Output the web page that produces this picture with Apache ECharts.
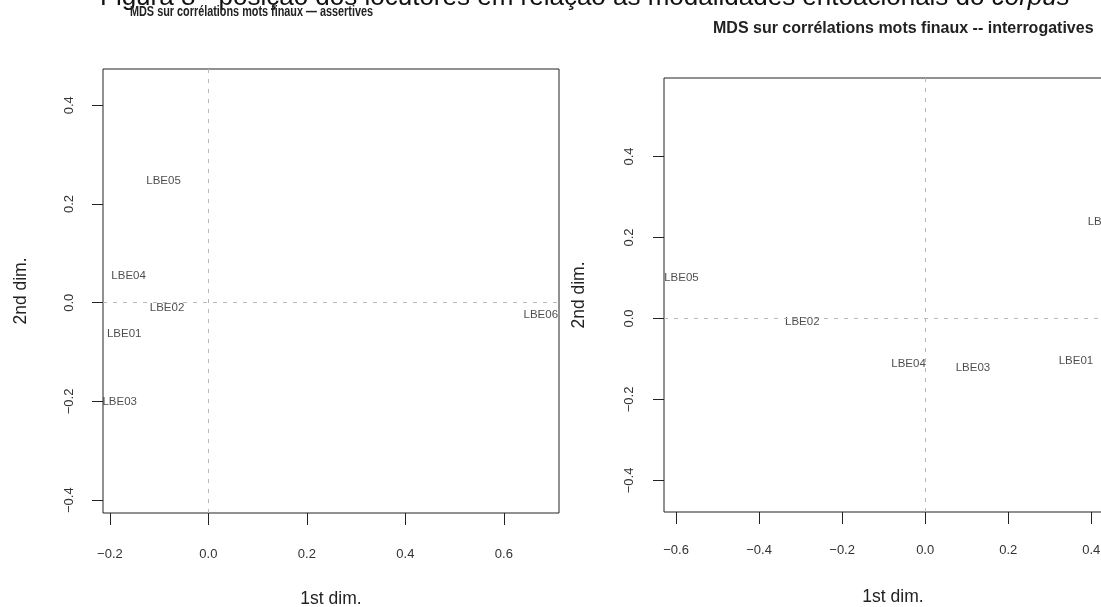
<!DOCTYPE html>
<html>
<head>
<meta charset="utf-8">
<script src="https://cdn.jsdelivr.net/npm/echarts@6/dist/echarts.min.js"></script>
<style>
html,body{margin:0;padding:0;overflow:hidden;background:#fff;}
#chart{width:1130px;height:607px;}
</style>
</head>
<body>
<div id="chart"></div>
<script>
// ---- data ----
const speakersAssert = ['LBE01','LBE02','LBE03','LBE04','LBE05','LBE06'];
const assertDim1 = [-0.171, -0.084, -0.180, -0.162, -0.091, 0.675];
const assertDim2 = [-0.063, -0.011, -0.201, 0.054, 0.247, -0.025];

const speakersInterrog = ['LBE01','LBE02','LBE03','LBE04','LBE05','LBE06'];
const interrogDim1 = [0.363, -0.296, 0.115, -0.040, -0.587, 0.433];
const interrogDim2 = [-0.104, -0.008, -0.122, -0.113, 0.100, 0.238];

const assertXTicks = [-0.2, 0.0, 0.2, 0.4, 0.6];
const assertYTicks = [-0.4, -0.2, 0.0, 0.2, 0.4];
const interrogXTicks = [-0.6, -0.4, -0.2, 0.0, 0.2, 0.4];
const interrogYTicks = [-0.4, -0.2, 0.0, 0.2, 0.4];

const headerText = 'Figura 8 - posição dos locutores em relação às modalidades entoacionais do ';
const headerItalic = 'corpus';
const titleAssert = 'MDS sur corrélations mots finaux — assertives';
const titleInterrog = 'MDS sur corrélations mots finaux -- interrogatives';
const xName = '1st dim.';
const yName = '2nd dim.';

// ---- chart ----
const FONT = "'Liberation Sans', Arial, sans-serif";
const fmt = v => (v < 0 ? '\u2212' : '') + Math.abs(v).toFixed(1);

function xAxisCfg(gi, min, max, ticks, margin, nameGap) {
  return {
    type: 'value', gridIndex: gi, min: min, max: max,
    name: xName, nameLocation: 'middle', nameGap: nameGap,
    nameTextStyle: {fontFamily: FONT, fontSize: 17.5, color: '#222'},
    axisLine: {show: false, onZero: false},
    axisTick: {show: true, length: 12, customValues: ticks, lineStyle: {color: '#222', width: 1}},
    axisLabel: {show: true, customValues: ticks, formatter: fmt, margin: margin,
      fontFamily: FONT, fontSize: 13, color: '#333'},
    splitLine: {show: false}
  };
}
function yAxisCfg(gi, min, max, ticks, margin, nameGap) {
  return {
    type: 'value', gridIndex: gi, min: min, max: max,
    name: yName, nameLocation: 'middle', nameGap: nameGap,
    nameTextStyle: {fontFamily: FONT, fontSize: 17.5, color: '#222'},
    axisLine: {show: false, onZero: false},
    axisTick: {show: true, length: 11, customValues: ticks, lineStyle: {color: '#222', width: 1}},
    axisLabel: {show: true, customValues: ticks, formatter: fmt, margin: margin, rotate: 90,
      fontFamily: FONT, fontSize: 13, color: '#333'},
    splitLine: {show: false}
  };
}
function scatterCfg(gi, names, xs, ys) {
  return {
    type: 'scatter', xAxisIndex: gi, yAxisIndex: gi,
    symbolSize: 1, itemStyle: {color: 'rgba(0,0,0,0)'},
    data: names.map((n, i) => ({name: n, value: [xs[i], ys[i]]})),
    label: {show: true, position: 'inside', formatter: p => p.name,
      fontFamily: FONT, fontSize: 11.5, color: '#222'},
    markLine: {
      silent: true, symbol: ['none', 'none'], animation: false,
      label: {show: false},
      lineStyle: {type: [4, 6], color: '#b8b8b8', width: 1},
      data: [{xAxis: 0}, {yAxis: 0}]
    }
  };
}

const chart = echarts.init(document.getElementById('chart'), null, {renderer: 'canvas'});
chart.setOption({
  animation: false,
  backgroundColor: '#fff',
  grid: [
    {left: 103, top: 69, width: 456, height: 444, outerBoundsMode: 'none', containLabel: false,
      show: true, borderColor: '#222', borderWidth: 1, backgroundColor: 'transparent'},
    {left: 664, top: 78, width: 458, height: 434, outerBoundsMode: 'none', containLabel: false,
      show: true, borderColor: '#222', borderWidth: 1, backgroundColor: 'transparent'}
  ],
  xAxis: [
    xAxisCfg(0, -0.214, 0.712, assertXTicks, 35, 77),
    xAxisCfg(1, -0.629, 0.474, interrogXTicks, 32, 76)
  ],
  yAxis: [
    yAxisCfg(0, -0.426, 0.4735, assertYTicks, 27, 73),
    yAxisCfg(1, -0.478, 0.594, interrogYTicks, 28, 76)
  ],
  series: [
    scatterCfg(0, speakersAssert, assertDim1, assertDim2),
    scatterCfg(1, speakersInterrog, interrogDim1, interrogDim2)
  ],
  graphic: [
    {type: 'text', left: 100, top: -15, silent: true,
      style: {text: headerText + '{i|' + headerItalic + '}', font: "26px " + FONT, fill: '#111',
        rich: {i: {fontStyle: 'italic', fontSize: 26, fontFamily: FONT, fill: '#111'}}}},
    {type: 'text', x: 130, y: 5, scaleX: 0.775, silent: true,
      style: {text: titleAssert, font: "bold 14px " + FONT, fill: '#222'}},
    {type: 'text', x: 713, y: 21, scaleX: 1.0, silent: true,
      style: {text: titleInterrog, font: "bold 16px " + FONT, fill: '#222'}}
  ]
});
</script>
</body>
</html>
